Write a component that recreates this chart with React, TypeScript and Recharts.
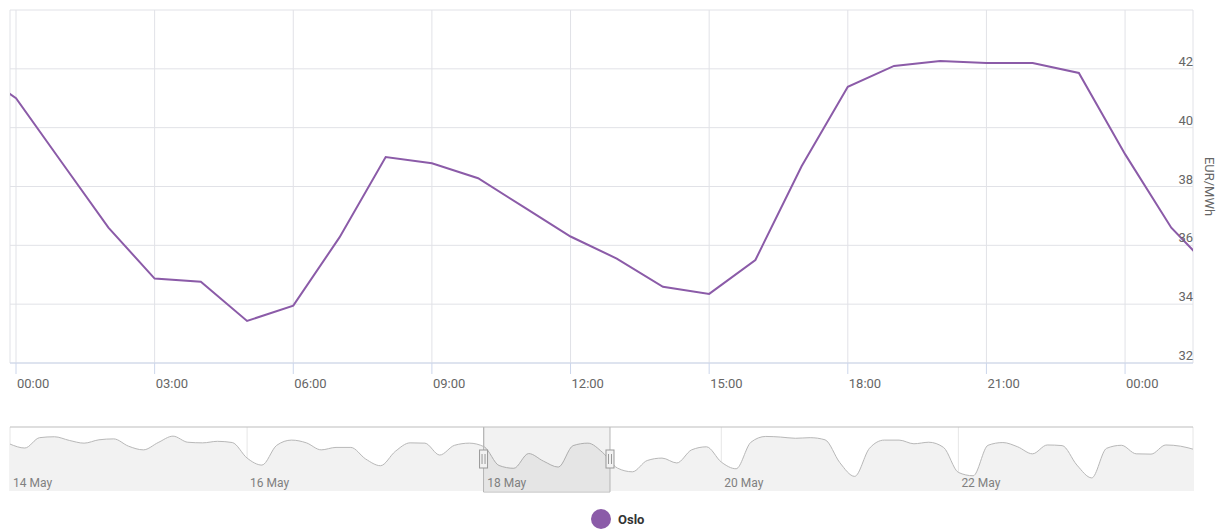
import React from 'react';
import {
  LineChart,
  Line,
  AreaChart,
  Area,
  XAxis,
  YAxis,
  CartesianGrid,
  ReferenceArea,
  ReferenceLine,
} from 'recharts';

// Hourly Oslo day-ahead price, hours relative to 18 May 00:00
const HOURS = [-1, 0, 1, 2, 3, 4, 5, 6, 7, 8, 9, 10, 11, 12, 13, 14, 15, 16, 17, 18, 19, 20, 21, 22, 23, 24, 25, 26];
const OSLO_PRICES = [
  42.1, 41.0, 38.8, 36.6, 34.87, 34.76, 33.43, 33.95, 36.27, 39.0, 38.79, 38.28, 37.29, 36.3,
  35.55, 34.59, 34.35, 35.5, 38.69, 41.39, 42.1, 42.27, 42.2, 42.2, 41.86, 39.1, 36.6, 34.97,
];

// Visible window of the main chart (hours)
const VIEW_START = -0.13;
const VIEW_END = 25.47;
const HOUR_TICKS = [0, 3, 6, 9, 12, 15, 18, 21, 24];
const PRICE_TICKS = [32, 34, 36, 38, 40, 42, 44];

// Navigator overview: 3-hourly values from 14 May 00:00
const NAV_STEP = 3;
const NAV_VALUES = [
  41.9, 40.6, 44.0, 44.3, 43.1, 42.2, 43.3, 43.6, 41.2, 40.0, 42.4, 44.5, 42.5, 42.3, 42.8, 42.4,
  37.3, 35.0, 41.5, 43.2, 42.3, 40.0, 40.8, 40.8, 37.0, 34.8, 39.5, 42.3, 42.2, 38.3, 41.5, 42.2,
  41.0, 34.87, 33.95, 38.79, 36.3, 34.35, 41.39, 42.2, 39.1, 34.0, 32.8, 36.5, 37.3, 35.7, 40.0, 41.0,
  36.0, 33.8, 42.5, 44.4, 44.2, 43.8, 44.0, 43.3, 35.8, 31.3, 40.5, 43.2, 43.2, 42.0, 42.5, 40.8,
  32.6, 31.5, 41.5, 42.4, 41.0, 38.7, 41.6, 41.4, 35.0, 30.8, 40.5, 41.5, 38.7, 38.6, 41.6, 41.2,
  40.0,
];
const NAV_DAY_TICKS = [0, 48, 96, 144, 192];
const NAV_DAY_LABELS = ['14 May', '16 May', '18 May', '20 May', '22 May'];
const SELECTED_DAY_OFFSET = 96;

const SERIES_NAME = 'Oslo';
const UNIT = 'EUR/MWh';

const PURPLE = '#8b5ba8';
const FONT = 'Roboto, "Noto Sans", sans-serif';

const mainData = HOURS.map((h, i) => ({ h, price: OSLO_PRICES[i] }));
const navData = NAV_VALUES.map((v, i) => ({ h: i * NAV_STEP, v }));

const pad = (n: number) => (n < 10 ? '0' + n : '' + n);
const fmtHour = (h: number) => pad(((h % 24) + 24) % 24) + ':00';

const HourTick = (props: any) => {
  const { x, y, payload } = props;
  return (
    <text x={x + 1} y={y + 12} fill="#666" fontSize={13} fontFamily={FONT} textAnchor="start">
      {fmtHour(payload.value)}
    </text>
  );
};

const PriceTick = (props: any) => {
  const { x, y, payload } = props;
  if (payload.value === 44) return <g />;
  return (
    <text x={x} y={y - 3} fill="#666" fontSize={13} fontFamily={FONT} textAnchor="end">
      {payload.value}
    </text>
  );
};

const DayTick = (props: any) => {
  const { x, y, payload } = props;
  const idx = NAV_DAY_TICKS.indexOf(payload.value);
  return (
    <text x={x + 3} y={y - 4} fill="#808080" fontSize={12} fontFamily={FONT} textAnchor="start">
      {NAV_DAY_LABELS[idx]}
    </text>
  );
};

const Handle = ({ cx, cy }: { cx: number; cy: number }) => (
  <g>
    <rect x={cx - 4} y={cy - 9} width={8} height={18} fill="#f2f2f2" stroke="#999" strokeWidth={1} />
    <line x1={cx - 1.5} x2={cx - 1.5} y1={cy - 5} y2={cy + 5} stroke="#999" strokeWidth={1} />
    <line x1={cx + 1.5} x2={cx + 1.5} y1={cy - 5} y2={cy + 5} stroke="#999" strokeWidth={1} />
  </g>
);

const SelectionShape = (props: any) => {
  const { x, y, width, height } = props;
  const mid = y + height / 2;
  return (
    <g>
      <rect x={x} y={y} width={width} height={height} fill="rgba(0,0,0,0.05)" />
      <path
        d={`M${x},${y} V${y + height + 1} H${x + width} V${y}`}
        fill="none"
        stroke="#b5b5b5"
        strokeWidth={1}
      />
      <Handle cx={x} cy={mid} />
      <Handle cx={x + width} cy={mid} />
    </g>
  );
};

export default function App() {
  return (
    <div style={{ position: 'absolute', left: 0, top: 0, width: 1224, height: 529, background: '#fff', fontFamily: FONT }}>
      <div style={{ position: 'absolute', left: 0, top: 0 }}>
        <LineChart width={1224} height={395} data={mainData} margin={{ top: 10, right: 0, left: 10, bottom: 0 }}>
          <CartesianGrid stroke="#e1e2e7" strokeWidth={1} />
          <XAxis
            dataKey="h"
            type="number"
            domain={[VIEW_START, VIEW_END]}
            allowDataOverflow
            ticks={HOUR_TICKS}
            tick={<HourTick />}
            tickSize={11}
            tickMargin={2}
            height={32}
            stroke="#ccd6eb"
            tickLine={{ stroke: '#ccd6eb' }}
            axisLine={{ stroke: '#ccd6eb' }}
            interval={0}
          />
          <YAxis
            orientation="right"
            type="number"
            domain={[32, 44]}
            ticks={PRICE_TICKS}
            tick={<PriceTick />}
            tickSize={0}
            tickMargin={0}
            tickLine={false}
            axisLine={false}
            width={31}
            interval={0}
            label={(p: any) => {
              const vb = p.viewBox || { x: 1193, y: 10, height: 353 };
              return (
                <text
                  transform={`translate(${vb.x + 12}, ${vb.y + vb.height / 2}) rotate(90)`}
                  textAnchor="middle"
                  fill="#666"
                  fontSize={13}
                  fontFamily={FONT}
                >
                  {UNIT}
                </text>
              );
            }}
          />
          <Line
            type="linear"
            dataKey="price"
            stroke={PURPLE}
            strokeWidth={2}
            dot={false}
            activeDot={false}
            isAnimationActive={false}
          />
        </LineChart>
      </div>

      <div style={{ position: 'absolute', left: 0, top: 420 }}>
        <AreaChart width={1224} height={80} data={navData} margin={{ top: 7, right: 31, left: 10, bottom: 0 }}>
          <CartesianGrid horizontal={false} stroke="#e6e6e6" strokeWidth={1} />
          <XAxis
            dataKey="h"
            type="number"
            domain={[0, 239.5]}
            allowDataOverflow
            ticks={NAV_DAY_TICKS}
            tick={<DayTick />}
            tickSize={0}
            tickMargin={0}
            tickLine={false}
            axisLine={false}
            height={9}
            interval={0}
          />
          <YAxis type="number" domain={[26.5, 47.5]} hide />
          <Area
            type="monotone"
            dataKey="v"
            stroke="#b8b8b8"
            strokeWidth={1}
            fill="#f2f2f2"
            fillOpacity={1}
            dot={false}
            activeDot={false}
            isAnimationActive={false}
          />
          <ReferenceLine y={47.5} stroke="#bdbdbd" strokeWidth={1} />
          <ReferenceArea
            x1={SELECTED_DAY_OFFSET + VIEW_START}
            x2={SELECTED_DAY_OFFSET + VIEW_END}
            y1={26.5}
            y2={47.5}
            shape={<SelectionShape />}
          />
        </AreaChart>
      </div>

      <div
        style={{
          position: 'absolute',
          left: 591,
          top: 509,
          display: 'flex',
          alignItems: 'center',
          height: 20,
        }}
      >
        <span
          style={{ display: 'inline-block', width: 20, height: 20, borderRadius: '50%', background: PURPLE }}
        />
        <span style={{ marginLeft: 7, fontSize: 13, fontWeight: 'bold', color: '#333', fontFamily: FONT }}>
          {SERIES_NAME}
        </span>
      </div>
    </div>
  );
}
